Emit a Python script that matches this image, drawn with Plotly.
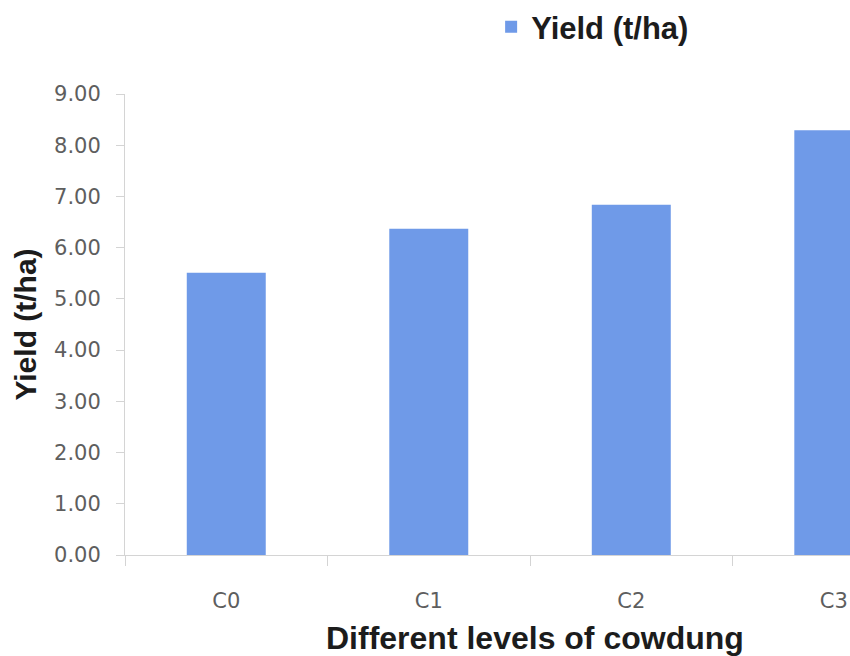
import plotly.graph_objects as go

# Yield of crop under different levels of cowdung
levels = ["C0", "C1", "C2", "C3"]
yield_t_ha = [5.51, 6.37, 6.84, 8.29]
y_ticks = [0, 1, 2, 3, 4, 5, 6, 7, 8, 9]
y_tick_labels = ["0.00", "1.00", "2.00", "3.00", "4.00", "5.00", "6.00", "7.00", "8.00", "9.00"]

BAR_COLOR = "#6f9ae8"
AXIS_COLOR = "#d4d4d4"
TICK_FONT = dict(family="DejaVu Sans", size=21, color="#5e5e5e")
TITLE_FONT = dict(family="Liberation Sans, Arial", size=31, color="#1c1c1c")

fig = go.Figure()
fig.add_trace(go.Bar(
    x=levels,
    y=yield_t_ha,
    name="<b>Yield (t/ha)</b>",
    marker=dict(color=BAR_COLOR, line=dict(width=0)),
    width=0.39,
))

fig.update_layout(
    width=850,
    height=656,
    margin=dict(l=125, r=0, t=92, b=101),
    paper_bgcolor="white",
    plot_bgcolor="white",
    showlegend=True,
    legend=dict(
        x=0.505, y=1.145, xanchor="left", yanchor="middle",
        font=dict(family="Liberation Sans, Arial", size=31, color="#1c1c1c"),
        bgcolor="rgba(0,0,0,0)",
    ),
    xaxis=dict(
        range=[-0.5, 3.08],
        showline=True, linecolor=AXIS_COLOR, linewidth=1,
        ticks="outside", tickson="boundaries", ticklen=10, tickcolor=AXIS_COLOR,
        tickfont=TICK_FONT, ticklabelstandoff=27,
        showgrid=False, zeroline=False,
    ),
    yaxis=dict(
        range=[0, 9],
        tickvals=y_ticks, ticktext=y_tick_labels,
        showline=True, linecolor=AXIS_COLOR, linewidth=1,
        ticks="outside", ticklen=8, tickcolor=AXIS_COLOR,
        tickfont=TICK_FONT, ticklabelstandoff=11,
        showgrid=False, zeroline=False,
        title=dict(text="<b>Yield (t/ha)</b>", font=dict(TITLE_FONT, size=30), standoff=8),
    ),
)

# x-axis title, centred on the full category span (the last column runs past the edge)
fig.add_annotation(
    text="<b>Different levels of cowdung</b>",
    xref="paper", yref="paper",
    x=0.566, y=-0.181, xanchor="center", yanchor="middle",
    showarrow=False,
    font=dict(TITLE_FONT, size=32),
)

fig.write_html("out.html")
